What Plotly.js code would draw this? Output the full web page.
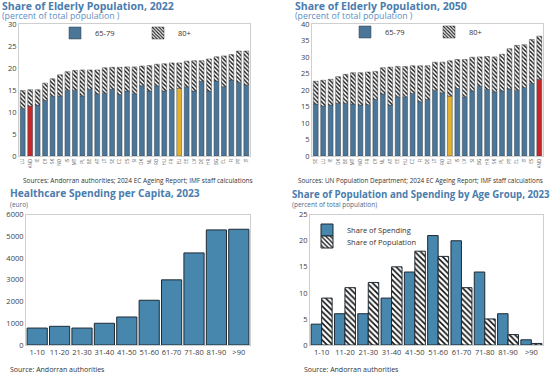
<!DOCTYPE html>
<html>
<head>
<meta charset="utf-8">
<script src="https://cdn.plot.ly/plotly-3.0.1.min.js"></script>
<style>html,body{margin:0;padding:0;background:#fff;}#chart{width:550px;height:373px;}</style>
</head>
<body>
<div id="chart"></div>
<script>
// ---- Data ----
const countries2022 = ["LU","AND","IE","CY","SK","NO","IS","MT","PL","BE","AT","LT","SE","CZ","ES","SI","DK","NL","RO","HU","FR","EU","EE","LV","DE","HR","BG","EL","FI","PT","IT"];
const age6579_2022 = [10.8,11.4,11.6,12.7,13.6,13.7,15.0,15.0,13.7,15.2,14.2,14.3,15.2,14.0,14.8,14.2,16.0,14.8,16.0,14.8,15.2,15.4,15.8,14.8,17.0,14.8,17.1,15.8,17.3,16.8,16.2];
const total_2022 = [14.9,15.1,15.1,16.6,17.6,18.5,19.2,19.5,19.6,19.6,19.6,20.1,20.2,20.2,20.3,20.3,20.5,20.6,20.9,21.0,21.2,21.2,21.6,21.7,21.7,22.1,22.6,22.8,23.1,23.9,23.9];

const countries2050 = ["SE","LU","IE","DK","BE","MT","NO","FR","CY","NL","AT","EE","HU","CZ","FI","DE","LT","RO","EU","IS","LV","SI","BG","HR","SK","PL","PT","EL","IT","ES","AND"];
const age6579_2050 = [15.8,15.2,15.5,16.0,16.0,15.8,15.5,15.6,17.2,18.8,15.5,18.0,18.0,19.0,16.5,17.2,20.0,19.2,18.2,20.5,18.0,19.8,21.2,20.2,19.5,19.8,20.4,20.0,20.8,22.0,23.3];
const total_2050 = [22.7,23.0,23.3,24.1,24.8,25.3,25.3,25.5,25.7,26.8,27.0,27.2,27.2,27.4,27.4,27.4,28.5,28.5,28.9,29.3,29.3,30.0,30.1,30.2,30.1,30.9,32.6,33.6,33.8,35.4,36.4];

const ageGroups = ["1-10","11-20","21-30","31-40","41-50","51-60","61-70","71-80","81-90",">90"];
const spendingPerCapita = [780,860,780,1000,1290,2060,3000,4240,5300,5330];
const shareSpending = [4,6,6,9,14,21,20,14,6,1];
const sharePopulation = [9,11,12,15,18,17,11,5,2,0.3];

// ---- Styles ----
const slate = "#4c7697";
const blue = "#4786ad";
const red = "#c62828";
const yellow = "#e3b12f";
const titleColor = "#4a7cae";
const subColor = "#5d8fbf";
const FONT = "Open Sans";
const tickFont = {family:FONT, size:7.5, color:"#404040"};

function over80(tot, base){ return tot.map((t,i)=>+(t-base[i]).toFixed(2)); }
function baseColors(n, redIdx, yelIdx){
  const c = new Array(n).fill(slate);
  c[redIdx] = red; c[yelIdx] = yellow; return c;
}
const hatchTop = {shape:"\\", fgcolor:"#111", bgcolor:"#ffffff", size:3, solidity:0.45};

const traces = [
  {type:"bar", name:"65-79", x:countries2022, y:age6579_2022, xaxis:"x", yaxis:"y", legend:"legend", offsetgroup:"a", width:0.65,
   marker:{color:baseColors(31, countries2022.indexOf("AND"), countries2022.indexOf("EU")), line:{color:"#2e3e4c", width:0.5}}},
  {type:"bar", name:"80+", x:countries2022, y:over80(total_2022, age6579_2022), base:age6579_2022, xaxis:"x", yaxis:"y", legend:"legend2", offsetgroup:"a", width:0.65,
   marker:{color:"#ffffff", pattern:hatchTop, line:{color:"#444", width:0.5}}},
  {type:"bar", name:"65-79", x:countries2050, y:age6579_2050, xaxis:"x2", yaxis:"y2", legend:"legend3", offsetgroup:"b", width:0.65,
   marker:{color:baseColors(31, countries2050.indexOf("AND"), countries2050.indexOf("EU")), line:{color:"#2e3e4c", width:0.5}}},
  {type:"bar", name:"80+", x:countries2050, y:over80(total_2050, age6579_2050), base:age6579_2050, xaxis:"x2", yaxis:"y2", legend:"legend4", offsetgroup:"b", width:0.65,
   marker:{color:"#ffffff", pattern:hatchTop, line:{color:"#444", width:0.5}}},
  {type:"bar", name:"Spending per capita", x:ageGroups, y:spendingPerCapita, xaxis:"x3", yaxis:"y3", showlegend:false,
   marker:{color:blue, line:{color:"#1e2a33", width:1}}},
  {type:"bar", name:"Share of Spending", x:ageGroups, y:shareSpending, xaxis:"x4", yaxis:"y4", legend:"legend5",
   marker:{color:blue, line:{color:"#1e2a33", width:1}}},
  {type:"bar", name:"Share of Population", x:ageGroups, y:sharePopulation, xaxis:"x4", yaxis:"y4", legend:"legend6",
   marker:{color:"#ffffff", pattern:{shape:"\\", fgcolor:"#111", bgcolor:"#fff", size:4, solidity:0.4}, line:{color:"#1e2a33", width:1}}}
];

const frame = {showline:true, mirror:true, linecolor:"#cfcfcf", linewidth:1, showgrid:false, zeroline:false, ticks:"", tickfont:tickFont};
const yTop = [1-156/373, 1-24.3/373];
const yBot = [1-345/373, 1-214.7/373];
const smallX = {family:FONT, size:4.5, color:"#555"};
const legFont = {family:FONT, size:7.5, color:"#333"};

function ann(text, px, py, size, color){
  return {text:text, x:px/550, y:1-py/373, xref:"paper", yref:"paper", xanchor:"left", yanchor:"middle", showarrow:false, font:{family:FONT, size:size, color:color}};
}
// legend box placed so that its text starts near pixel tx, centred on pixel ty
const LEG_OFF = 35;
function leg(tx, ty){
  return {orientation:"v", x:(tx-LEG_OFF)/550, y:1-ty/373, xanchor:"left", yanchor:"middle", bgcolor:"rgba(0,0,0,0)",
          font:legFont, itemwidth:30, borderwidth:0};
}

const layout = {
  width:550, height:373, margin:{l:0,r:0,t:0,b:0,autoexpand:false},
  paper_bgcolor:"#fff", plot_bgcolor:"#fff",
  font:{family:FONT, color:"#333"},
  barmode:"group", bargap:0.1, bargroupgap:0,
  xaxis: Object.assign({}, frame, {domain:[19/550, 250/550], anchor:"y", tickangle:-90, tickfont:smallX}),
  yaxis: Object.assign({}, frame, {domain:yTop, anchor:"x", range:[0,30], dtick:5}),
  xaxis2: Object.assign({}, frame, {domain:[312/550, 543/550], anchor:"y2", tickangle:-90, tickfont:smallX}),
  yaxis2: Object.assign({}, frame, {domain:yTop, anchor:"x2", range:[0,40], dtick:5}),
  xaxis3: Object.assign({}, frame, {domain:[26/550, 250/550], anchor:"y3", tickangle:0}),
  yaxis3: Object.assign({}, frame, {domain:yBot, anchor:"x3", range:[0,6000], dtick:1000}),
  xaxis4: Object.assign({}, frame, {domain:[310/550, 543/550], anchor:"y4", tickangle:0}),
  yaxis4: Object.assign({}, frame, {domain:yBot, anchor:"x4", range:[0,25], dtick:5}),
  legend: leg(90, 33),
  legend2: leg(173, 33),
  legend3: leg(380, 32),
  legend4: leg(464, 32),
  legend5: leg(342, 230),
  legend6: leg(342, 242),
  annotations:[
    ann("<b>Share of Elderly Population, 2022</b>", 0, 5.5, 10.5, titleColor),
    ann("(percent of total population )", 0, 15.5, 8.8, subColor),
    ann("Sources: Andorran authorities; 2024 EC Ageing Report; IMF staff calculations", 21, 180, 6.5, "#333"),
    ann("<b>Share of Elderly Population, 2050</b>", 293, 5.5, 10.5, titleColor),
    ann("(percent of total population )", 293, 15.5, 8.8, subColor),
    ann("Sources: UN Population Department; 2024 EC Ageing Report; IMF staff calculations", 296, 180, 6.4, "#333"),
    ann("<b>Healthcare Spending per Capita, 2023</b>", 8, 193, 10.2, titleColor),
    ann("(euro)", 8, 204, 6.5, "#4d6a88"),
    ann("Source: Andorran authorities", 8, 369, 7, "#333"),
    ann("<b>Share of Population and Spending by Age Group, 2023</b>", 290, 194, 9.7, titleColor),
    ann("(percent of total population)", 290, 204, 6.5, "#4d6a88"),
    ann("Source: Andorran authorities", 302, 369, 7, "#333")
  ]
};

Plotly.newPlot("chart", traces, layout, {displayModeBar:false, staticPlot:true});
</script>
</body>
</html>
